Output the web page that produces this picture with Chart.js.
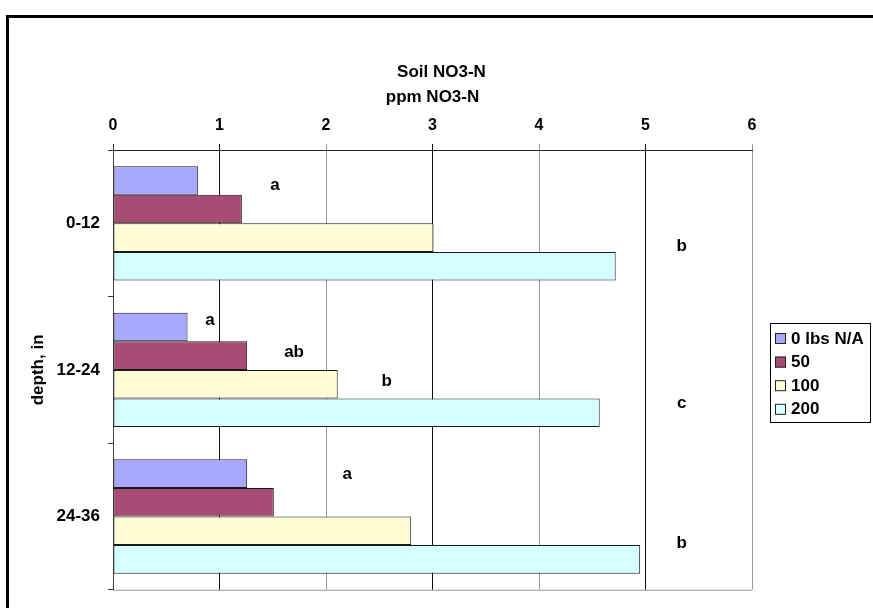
<!DOCTYPE html>
<html>
<head>
<meta charset="utf-8">
<script src="https://cdn.jsdelivr.net/npm/chart.js@4"></script>
<style>
  html, body { margin: 0; padding: 0; background: #fff; }
  #wrap { width: 873px; height: 608px; position: relative; }
</style>
</head>
<body>
<div id="wrap"><canvas id="no3Chart"></canvas></div>
<script>
document.addEventListener('DOMContentLoaded', function () {
    const ctx = document.getElementById('no3Chart').getContext('2d');

    const depths = ["0-12", "12-24", "24-36"];
    const rateLabels = ["0 lbs N/A", "50", "100", "200"];
    const n0 = [0.80, 0.70, 1.26];
    const n50 = [1.21, 1.26, 1.51];
    const n100 = [3.01, 2.11, 2.80];
    const n200 = [4.72, 4.57, 4.95];
    const xTicks = [0, 1, 2, 3, 4, 5, 6];

    // significance letters, placed in data units (x = ppm, y = depth index)
    const letters = [
        { text: 'a',  x: 1.52, y: -0.26 },
        { text: 'b',  x: 5.34, y: 0.16 },
        { text: 'a',  x: 0.91, y: 0.66 },
        { text: 'ab', x: 1.70, y: 0.88 },
        { text: 'b',  x: 2.57, y: 1.08 },
        { text: 'c',  x: 5.34, y: 1.23 },
        { text: 'a',  x: 2.20, y: 1.71 },
        { text: 'b',  x: 5.34, y: 2.18 }
    ];

    const fill = ['#A8A8FF', '#A84C75', '#FFFDD6', '#D4FEFF'];
    const FONT = '"Liberation Sans", Arial, sans-serif';

    const framePlugin = {
        id: 'frame',
        beforeDraw(chart) {
            const c = chart.ctx;
            c.save();
            c.fillStyle = '#fff';
            c.fillRect(0, 0, chart.width, chart.height);
            c.fillStyle = '#000';
            c.fillRect(6, 15, chart.width - 6, 3);
            c.fillRect(6, 15, 3, chart.height - 15);
            c.restore();
        },
        afterDraw(chart) {
            const c = chart.ctx;
            const a = chart.chartArea;
            const xs = chart.scales.x, ys = chart.scales.y;
            c.save();
            // plot area bottom edge
            c.strokeStyle = '#999';
            c.lineWidth = 1;
            c.beginPath();
            c.moveTo(a.left, a.bottom + 0.5);
            c.lineTo(a.right, a.bottom + 0.5);
            c.stroke();

            // letters
            c.fillStyle = '#000';
            c.font = 'bold 17px ' + FONT;
            c.textAlign = 'center';
            c.textBaseline = 'middle';
            letters.forEach(function (l) {
                c.fillText(l.text, xs.getPixelForValue(l.x), ys.getPixelForValue(l.y));
            });

            // legend
            const bx = 770, by = 323, bw = 100, bh = 99;
            c.strokeStyle = '#000';
            c.strokeRect(bx + 0.5, by + 0.5, bw, bh);
            c.textAlign = 'left';
            c.font = 'bold 17px ' + FONT;
            chart.data.datasets.forEach(function (ds, i) {
                const cy = by + 15 + i * 23.6;
                c.fillStyle = ds.backgroundColor;
                c.fillRect(775, cy - 5, 11, 11);
                c.strokeStyle = '#222';
                c.strokeRect(775.5, cy - 4.5, 10, 10);
                c.fillStyle = '#000';
                c.fillText(ds.label, 791, cy + 1);
            });
            c.restore();
        }
    };

    const datasets = [n0, n50, n100, n200].map(function (vals, i) {
        return {
            label: rateLabels[i],
            data: vals,
            backgroundColor: fill[i],
            borderColor: '#1a1a1a',
            borderWidth: 1,
            borderSkipped: false,
            categoryPercentage: 0.78,
            barPercentage: 1.0
        };
    });

    new Chart(ctx, {
        type: 'bar',
        data: { labels: depths, datasets: datasets },
        options: {
            indexAxis: 'y',
            responsive: true,
            maintainAspectRatio: false,
            animation: false,
            layout: { padding: { left: 10, right: 0, top: 0, bottom: 14 } },
            plugins: {
                legend: { display: false },
                tooltip: { enabled: false },
                title: {
                    display: true,
                    text: 'Soil NO3-N',
                    color: '#000',
                    font: { family: FONT, size: 17, weight: 'bold' },
                    padding: { top: 62, bottom: 0 }
                }
            },
            scales: {
                x: {
                    position: 'top',
                    min: 0,
                    max: 6,
                    afterBuildTicks: function (scale) {
                        scale.ticks = xTicks.map(function (v) { return { value: v }; });
                    },
                    afterFit: function (scale) { scale.height = 150 - 82.4; },
                    ticks: {
                        color: '#000',
                        padding: 9,
                        font: { family: FONT, size: 16, weight: 'bold' }
                    },
                    grid: {
                        color: function (c) {
                            const v = c.tick ? c.tick.value : 0;
                            if (v === 0) return '#333';
                            return v % 2 ? '#111' : '#999';
                        },
                        tickLength: 6
                    },
                    border: { color: '#222' },
                    title: {
                        display: true,
                        text: 'ppm NO3-N',
                        color: '#000',
                        font: { family: FONT, size: 17, weight: 'bold' },
                        padding: { top: 5, bottom: 0 }
                    }
                },
                y: {
                    afterFit: function (scale) { scale.width = 103; },
                    ticks: {
                        color: '#000',
                        padding: 8,
                        font: { family: FONT, size: 17, weight: 'bold' }
                    },
                    grid: {
                        offset: true,
                        drawOnChartArea: false,
                        color: '#333',
                        tickLength: 5
                    },
                    border: { color: '#444' },
                    title: {
                        display: true,
                        text: 'depth, in',
                        color: '#000',
                        font: { family: FONT, size: 17, weight: 'bold' },
                        padding: { top: 18, bottom: 0 }
                    }
                },
                // empty right-hand strip that holds the legend
                yRight: {
                    type: 'category',
                    position: 'right',
                    afterFit: function (scale) { scale.width = 121; },
                    ticks: { display: false },
                    grid: { display: false },
                    border: { display: false }
                }
            }
        },
        plugins: [framePlugin]
    });
});
</script>
</body>
</html>
